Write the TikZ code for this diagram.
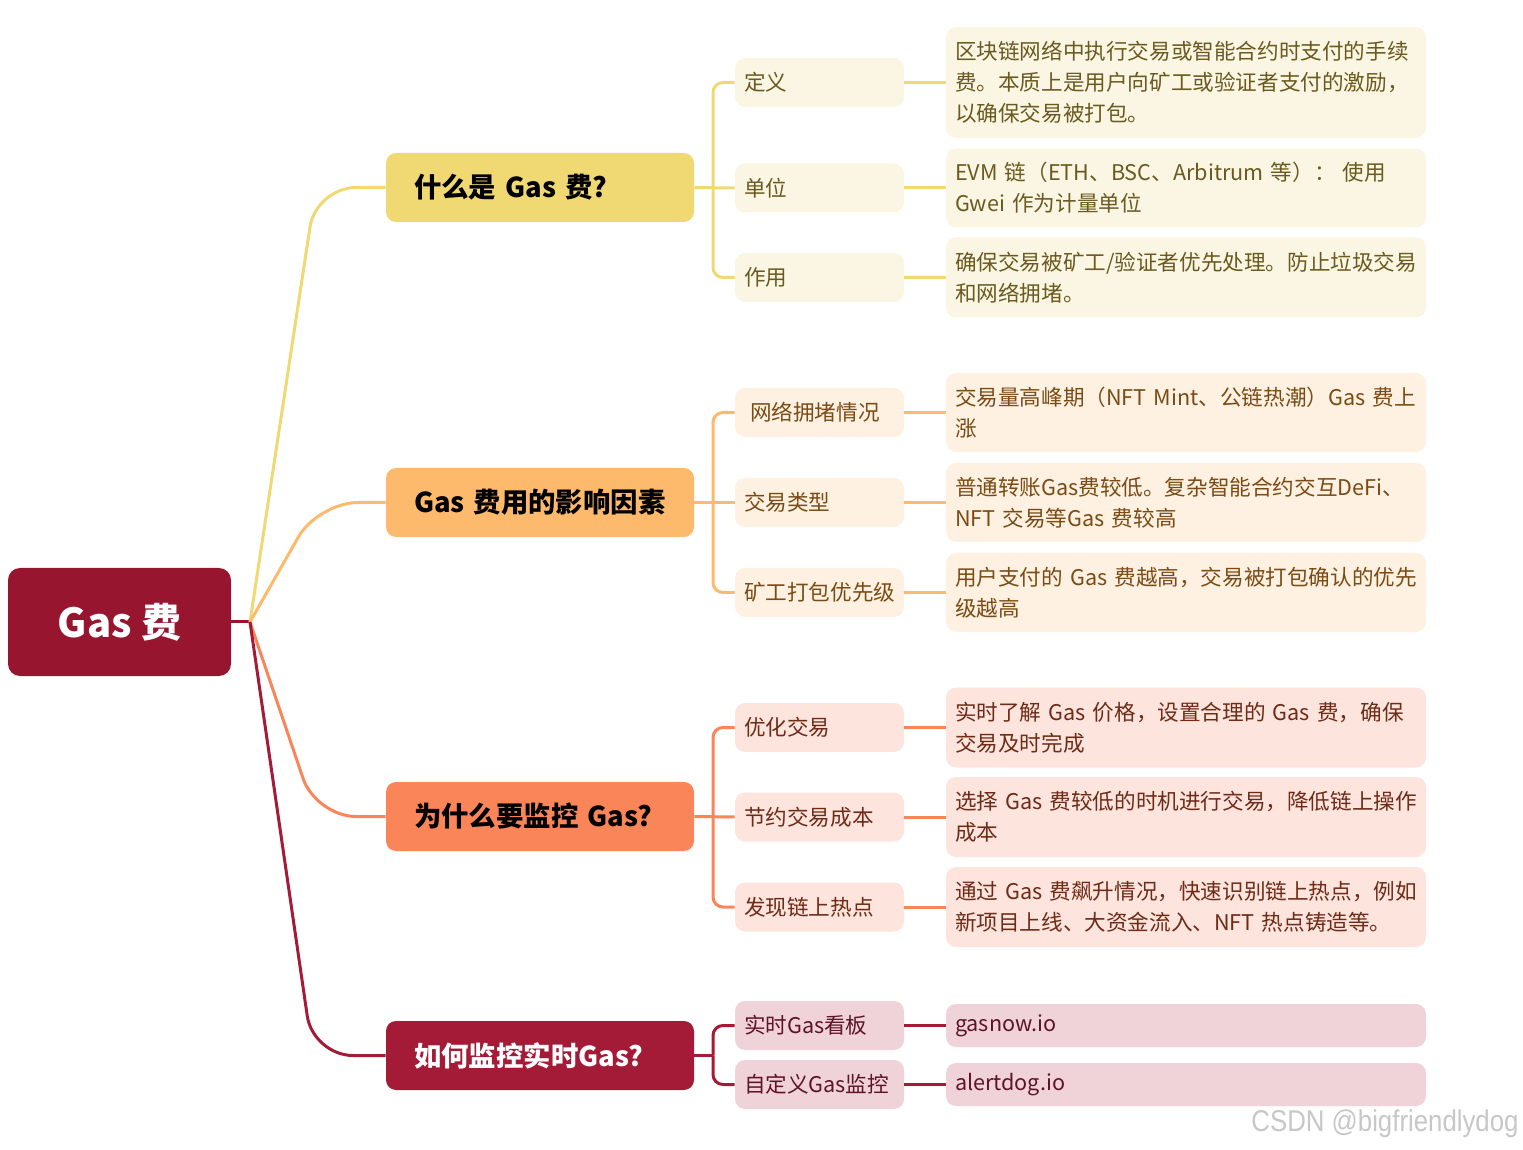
\documentclass[tikz,border=0pt]{standalone}
\usepackage{fontspec}
\setmainfont{Noto Sans CJK SC}
\newfontfamily\wmfont[FakeStretch=0.86]{Liberation Sans}
\definecolor{rootc}{HTML}{981530}
\definecolor{ca}{HTML}{F0D872}
\definecolor{cb}{HTML}{FDB96C}
\definecolor{cc}{HTML}{F98558}
\definecolor{cd}{HTML}{A31B37}
\definecolor{fa}{HTML}{FBF6E3}
\definecolor{fb}{HTML}{FEF1E2}
\definecolor{fc}{HTML}{FDE4DD}
\definecolor{fd}{HTML}{EFD3D9}
\definecolor{ta}{HTML}{6A5A1F}
\definecolor{tb}{HTML}{7A4B14}
\definecolor{tc}{HTML}{6E2B17}
\definecolor{td}{HTML}{5E1426}
\begin{document}
\begin{tikzpicture}[x=0.5pt,y=-0.5pt,
  rootbox/.style={fill=rootc, rounded corners=6pt, minimum width=111.5pt, minimum height=54pt, inner sep=0pt, text=white, font=\fontsize{20}{24}\selectfont\bfseries},
  branch/.style={fill=#1, rounded corners=5pt, minimum height=34.5pt, text width=126pt, inner xsep=14pt, inner ysep=0pt, align=left, font=\fontsize{13.7}{16}\selectfont\bfseries},
  sub/.style 2 args={fill=#1, text=#2, rounded corners=5pt, minimum height=24.5pt, text width=75.5pt, inner xsep=4.5pt, inner ysep=0pt, align=left, font=\fontsize{10.8}{15.5}\selectfont},
  leaf/.style 2 args={fill=#1, text=#2, rounded corners=5pt, text width=231pt, inner xsep=4.5pt, inner ysep=0pt, align=left, font=\fontsize{10.8}{15.5}\selectfont},
  conn/.style={draw=#1, line width=1.5pt},
  elbow/.style={draw=#1, line width=1.5pt, rounded corners=5pt},
  hubline/.style={draw=#1, line width=1.5pt, rounded corners=20pt},
]
\useasboundingbox (0,0) rectangle (1523,1150);

% root
\node[rootbox] (root) at (119.5,622) {Gas 费};
\coordinate (hub) at (250,622);

% branches
\node[branch=ca] (b1) at (540,187.5) {什么是 Gas 费?};
\node[branch=cb] (b2) at (540,502.5) {Gas 费用的影响因素};
\node[branch=cc] (b3) at (540,816.5) {为什么要监控 Gas?};
\node[branch=cd, text=white] (b4) at (540,1055.5) {如何监控实时Gas?};

% level 2
\node[sub={fa}{ta}] (d1) at (819.5,82.5) {定义};
\node[sub={fa}{ta}] (d2) at (819.5,188) {单位};
\node[sub={fa}{ta}] (d3) at (819.5,277.5) {作用};
\node[sub={fb}{tb}] (f1) at (819.5,412.5) {\hspace*{3pt}网络拥堵情况};
\node[sub={fb}{tb}] (f2) at (819.5,502.5) {交易类型};
\node[sub={fb}{tb}] (f3) at (819.5,592.5) {矿工打包优先级};
\node[sub={fc}{tc}] (g1) at (819.5,727.5) {优化交易};
\node[sub={fc}{tc}] (g2) at (819.5,817) {节约交易成本};
\node[sub={fc}{tc}] (g3) at (819.5,907) {发现链上热点};
\node[sub={fd}{td}] (h1) at (819.5,1025.5) {实时Gas看板};
\node[sub={fd}{td}] (h2) at (819.5,1084.5) {自定义Gas监控};

% level 3
\node[leaf={fa}{ta}, minimum height=55.5pt] (t1) at (1186,82.5) {区块链网络中执行交易或智能合约时支付的手续\\费。本质上是用户向矿工或验证者支付的激励，\\以确保交易被打包。};
\node[leaf={fa}{ta}, minimum height=39.5pt] (t2) at (1186,188) {EVM~链（ETH、BSC、Arbitrum~等）：~使用\\Gwei~作为计量单位};
\node[leaf={fa}{ta}, minimum height=40pt] (t3) at (1186,277.5) {确保交易被矿工/验证者优先处理。防止垃圾交易\\和网络拥堵。};
\node[leaf={fb}{tb}, minimum height=39.5pt] (u1) at (1186,412.5) {交易量高峰期（NFT~Mint、公链热潮）Gas~费上\\涨};
\node[leaf={fb}{tb}, minimum height=39.5pt] (u2) at (1186,502.5) {普通转账Gas费较低。复杂智能合约交互DeFi、\\NFT~交易等Gas~费较高};
\node[leaf={fb}{tb}, minimum height=39.5pt] (u3) at (1186,592.5) {用户支付的~Gas~费越高，交易被打包确认的优先\\级越高};
\node[leaf={fc}{tc}, minimum height=40pt] (v1) at (1186,727.5) {实时了解~Gas~价格，设置合理的~Gas~费，确保\\交易及时完成};
\node[leaf={fc}{tc}, minimum height=40pt] (v2) at (1186,817) {选择~Gas~费较低的时机进行交易，降低链上操作\\成本};
\node[leaf={fc}{tc}, minimum height=40pt] (v3) at (1186,907) {通过~Gas~费飙升情况，快速识别链上热点，例如\\新项目上线、大资金流入、NFT~热点铸造等。};
\node[leaf={fd}{td}, minimum height=21.5pt] (w1) at (1186,1025.5) {gasnow.io};
\node[leaf={fd}{td}, minimum height=21.5pt] (w2) at (1186,1084.5) {alertdog.io};

% root connectors
\draw[conn=rootc] (root.east) -- (hub);
\draw[hubline=ca] (hub) -- (316,187.5) -- (b1.west);
\draw[hubline=cb] (hub) -- (318,502.5) -- (b2.west);
\draw[hubline=cc] (hub) -- (316,816.5) -- (b3.west);
\draw[hubline=cd] (hub) -- (313,1055.5) -- (b4.west);

% buses
\coordinate (bus1) at (713,187.5);
\coordinate (bus2) at (713,502.5);
\coordinate (bus3) at (713,816.5);
\coordinate (bus4) at (713,1055.5);

\draw[conn=ca] (b1.east) -- (d2.west);
\draw[elbow=ca] (bus1) |- (d1.west);
\draw[elbow=ca] (bus1) |- (d3.west);
\draw[conn=cb] (b2.east) -- (f2.west);
\draw[elbow=cb] (bus2) |- (f1.west);
\draw[elbow=cb] (bus2) |- (f3.west);
\draw[conn=cc] (b3.east) -- (g2.west);
\draw[elbow=cc] (bus3) |- (g1.west);
\draw[elbow=cc] (bus3) |- (g3.west);
\draw[conn=cd] (b4.east) -- (bus4);
\draw[elbow=cd] (bus4) |- (h1.west);
\draw[elbow=cd] (bus4) |- (h2.west);

% level2 to level3
\draw[conn=ca] (d1.east) -- (t1.west |- d1.east);
\draw[conn=ca] (d2.east) -- (t2.west |- d2.east);
\draw[conn=ca] (d3.east) -- (t3.west |- d3.east);
\draw[conn=cb] (f1.east) -- (u1.west |- f1.east);
\draw[conn=cb] (f2.east) -- (u2.west |- f2.east);
\draw[conn=cb] (f3.east) -- (u3.west |- f3.east);
\draw[conn=cc] (g1.east) -- (v1.west |- g1.east);
\draw[conn=cc] (g2.east) -- (v2.west |- g2.east);
\draw[conn=cc] (g3.east) -- (v3.west |- g3.east);
\draw[conn=cd] (h1.east) -- (w1.west |- h1.east);
\draw[conn=cd] (h2.east) -- (w2.west |- h2.east);

% watermark
\node[anchor=east, text=black!22, inner sep=0pt, font=\wmfont\fontsize{15}{18}\selectfont] (wm) at (1519,1124) {CSDN @bigfriendlydog};
\end{tikzpicture}
\end{document}
